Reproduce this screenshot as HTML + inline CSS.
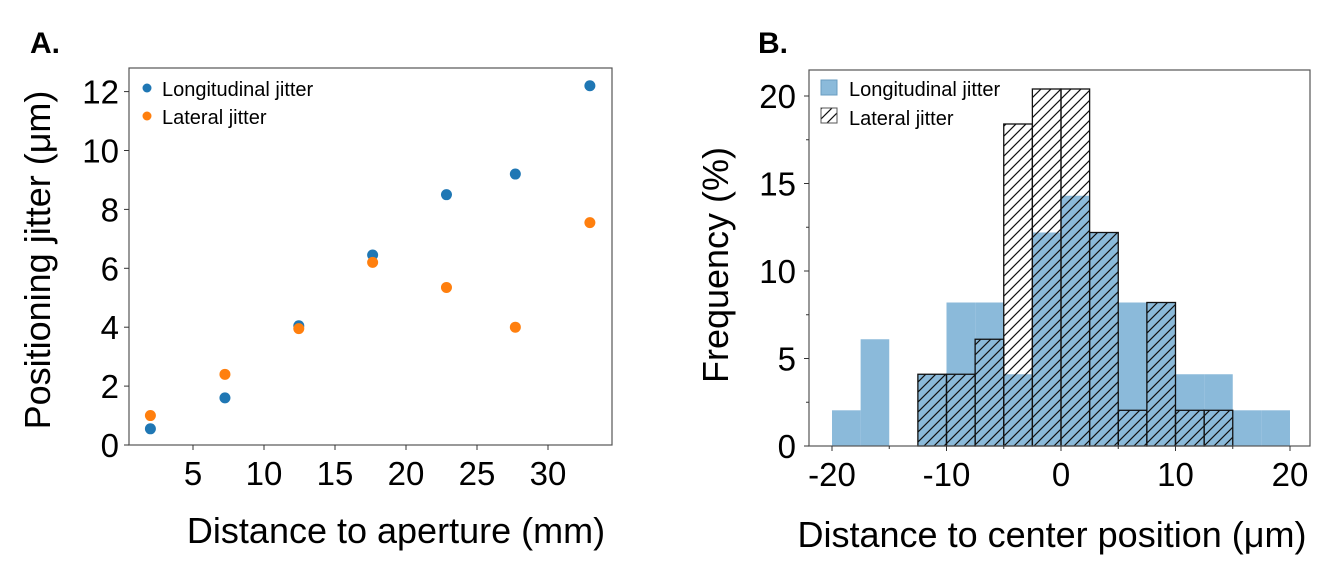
<!DOCTYPE html>
<html><head><meta charset="utf-8"><style>
body{margin:0;background:#fff}
svg{display:block;font-family:"Liberation Sans",sans-serif}
</style></head><body>
<svg id="fig" width="1336" height="581" viewBox="0 0 1336 581">
<defs>
<pattern id="hatch" patternUnits="userSpaceOnUse" width="10" height="10">
<path d="M-2,12 L12,-2 M-2,2 L2,-2 M8,12 L12,8" stroke="#111" stroke-width="1.2"/>
</pattern>
</defs>
<text x="30" y="53" font-size="30" font-weight="bold">A.</text>
<text x="758" y="53" font-size="30" font-weight="bold">B.</text>
<g id="A"></g>
<g id="B"></g>
</svg>
<script>
const NS="http://www.w3.org/2000/svg";
function mk(p,t,a,txt){const e=document.createElementNS(NS,t);for(const k in a)e.setAttribute(k,a[k]);if(txt!==undefined)e.textContent=txt;p.appendChild(e);return e;}

// ---- Panel A data ----
const distA=[2.0,7.25,12.45,17.65,22.85,27.7,32.95];
const longA=[0.55,1.6,4.05,6.45,8.5,9.2,12.2];
const latA=[1.0,2.4,3.95,6.2,5.35,4.0,7.55];
const xTicksA=[5,10,15,20,25,30];
const yTicksA=[0,2,4,6,8,10,12];

// ---- Panel B data ----
const binStarts=[-20,-17.5,-15,-12.5,-10,-7.5,-5,-2.5,0,2.5,5,7.5,10,12.5,15,17.5];
const longB=[2.04,6.1,0,4.1,8.2,8.2,4.1,12.2,14.3,12.2,8.2,8.2,4.1,4.1,2.04,2.04];
const latB=[0,0,0,4.1,4.1,6.1,18.4,20.4,20.4,12.2,2.04,8.2,2.04,2.04,0,0];
const binW=2.5;
const xTicksB=[-20,-10,0,10,20];
const yTicksB=[0,5,10,15,20];
const yMinorB=[2.5,7.5,12.5,17.5];

const TICKFS=33, TITLEFS=36;

// ---- Panel A ----
(function(){
const g=document.getElementById('A');
const L=129,R=612,T=68,B=445;
const xs=v=>122+v*14.2, ys=v=>445-v*29.45;
const fr=mk(g,'rect',{x:L,y:T,width:R-L,height:B-T,fill:'none',stroke:'#555','stroke-width':1.2});

xTicksA.forEach(v=>{
 mk(g,'line',{x1:xs(v),x2:xs(v),y1:B,y2:B+5,stroke:'#333'});
 const t=mk(g,'text',{x:xs(v),y:B+40,'font-size':TICKFS,'text-anchor':'middle'},v);
 
});
yTicksA.forEach(v=>{
 mk(g,'line',{x1:L-5,x2:L,y1:ys(v),y2:ys(v),stroke:'#333'});
 const t=mk(g,'text',{x:L-10,y:ys(v)+12,'font-size':TICKFS,'text-anchor':'end'},v);
 
});
distA.forEach((d,i)=>{
 const c=mk(g,'circle',{cx:xs(d),cy:ys(longA[i]),r:5.5,fill:'#1f77b4'});
 
});
distA.forEach((d,i)=>{
 const c=mk(g,'circle',{cx:xs(d),cy:ys(latA[i]),r:5.5,fill:'#ff7f0e'});
 
});
const xt=mk(g,'text',{x:396,y:543,'font-size':TITLEFS,'text-anchor':'middle'},'Distance to aperture (mm)');

const yt=mk(g,'text',{x:0,y:0,'font-size':TITLEFS,'text-anchor':'middle',transform:'translate(50,260) rotate(-90)'},'Positioning jitter (μm)');

const l1=mk(g,'circle',{cx:147,cy:88,r:4.5,fill:'#1f77b4'});

const t1=mk(g,'text',{x:162,y:96,'font-size':20},'Longitudinal jitter');

const l2=mk(g,'circle',{cx:147,cy:116,r:4.5,fill:'#ff7f0e'});

const t2=mk(g,'text',{x:162,y:124,'font-size':20},'Lateral jitter');

})();

// ---- Panel B ----
(function(){
const g=document.getElementById('B');
const L=809,R=1310,T=70,B=446;
const xs=v=>1061+v*11.45, ys=v=>446-v*17.5;
binStarts.forEach((s,i)=>{
 if(longB[i]<=0)return;
 const r=mk(g,'rect',{x:xs(s),y:ys(longB[i]),width:binW*11.45,height:B-ys(longB[i]),fill:'#8bbada'});
 
});
binStarts.forEach((s,i)=>{
 if(latB[i]<=0)return;
 const r=mk(g,'rect',{x:xs(s),y:ys(latB[i]),width:binW*11.45,height:B-ys(latB[i]),fill:'url(#hatch)',stroke:'#111','stroke-width':1.3});
 
});
const fr=mk(g,'rect',{x:L,y:T,width:R-L,height:B-T,fill:'none',stroke:'#555','stroke-width':1.2});

xTicksB.forEach(v=>{
 mk(g,'line',{x1:xs(v),x2:xs(v),y1:B,y2:B+5,stroke:'#333'});
 const t=mk(g,'text',{x:xs(v),y:B+40,'font-size':TICKFS,'text-anchor':'middle'},v<0?'-'+Math.abs(v):v);
 
});
[-15,-5,5,15].forEach(v=>mk(g,'line',{x1:xs(v),x2:xs(v),y1:B,y2:B+3,stroke:'#333'}));
yTicksB.forEach(v=>{
 mk(g,'line',{x1:L-5,x2:L,y1:ys(v),y2:ys(v),stroke:'#333'});
 const t=mk(g,'text',{x:L-13,y:ys(v)+12,'font-size':TICKFS,'text-anchor':'end'},v);
 
});
yMinorB.forEach(v=>mk(g,'line',{x1:L-3,x2:L,y1:ys(v),y2:ys(v),stroke:'#333'}));
const xt=mk(g,'text',{x:1052,y:547,'font-size':TITLEFS,'text-anchor':'middle'},'Distance to center position (μm)');

const yt=mk(g,'text',{x:0,y:0,'font-size':TITLEFS,'text-anchor':'middle',transform:'translate(728,265) rotate(-90)'},'Frequency (%)');

const s1=mk(g,'rect',{x:821,y:80,width:16,height:15,fill:'#8bbada',stroke:'#6a9cc0'});

const t1=mk(g,'text',{x:849,y:96,'font-size':20},'Longitudinal jitter');

const s2=mk(g,'rect',{x:821,y:108,width:16,height:15,fill:'url(#hatch)',stroke:'#555'});

const t2=mk(g,'text',{x:849,y:125,'font-size':20},'Lateral jitter');

})();
</script>
</body></html>
